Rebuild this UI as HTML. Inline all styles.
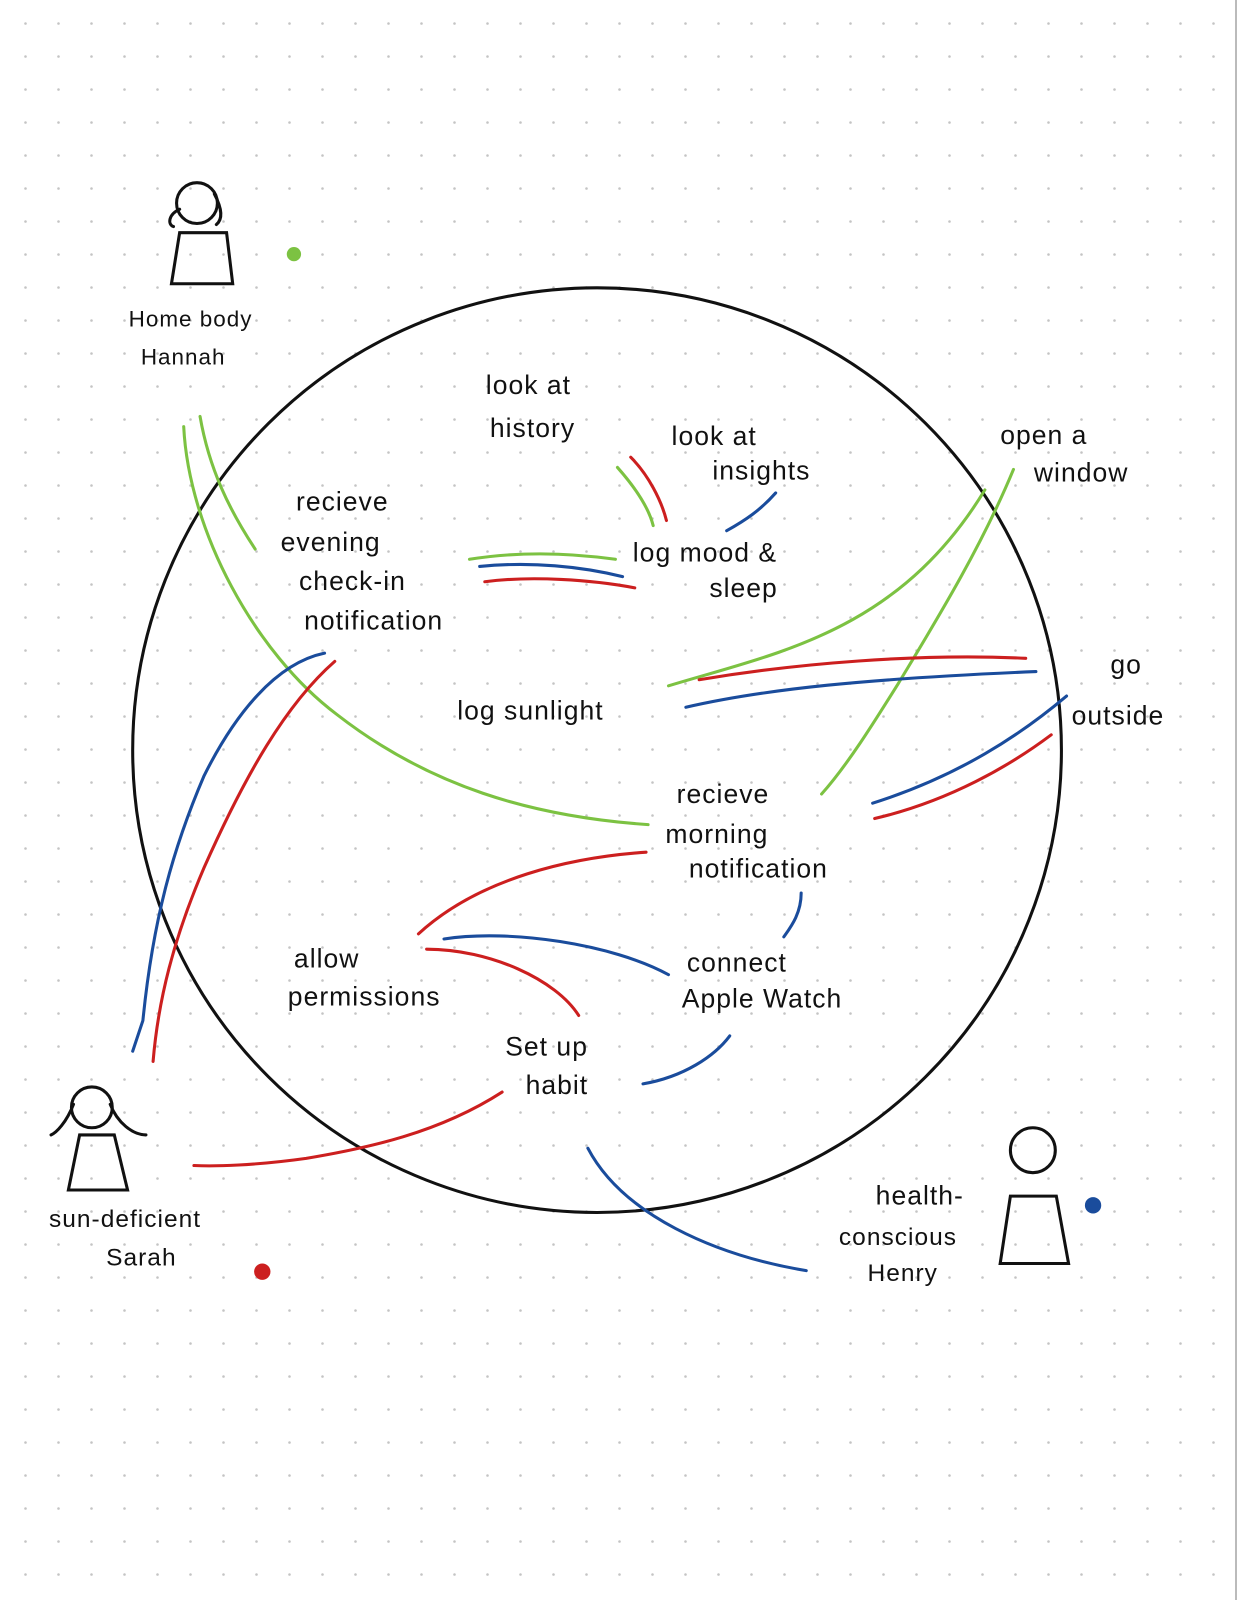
<!DOCTYPE html>
<html><head><meta charset="utf-8"><style>
html,body{margin:0;padding:0;background:#fff}
svg{display:block}
text{font-family:"Liberation Sans",sans-serif;font-size:26px;fill:#111;letter-spacing:1px}
</style></head><body>
<svg width="1237" height="1600" viewBox="0 0 1237 1600" xmlns="http://www.w3.org/2000/svg">
<defs><pattern id="d" x="24" y="22" width="33" height="33" patternUnits="userSpaceOnUse"><circle cx="1.5" cy="1.5" r="1.3" fill="#c4c4c4"/></pattern></defs>
<rect width="1237" height="1600" fill="#fff"/>
<rect width="1237" height="1600" fill="url(#d)"/>
<line x1="1236" y1="0" x2="1236" y2="1600" stroke="#bbb" stroke-width="2"/>
<g transform="scale(1.0206)">
<ellipse cx="585" cy="735" rx="455" ry="453" fill="none" stroke="#111" stroke-width="3"/>
<g fill="none" stroke-width="3" stroke-linecap="round">
<g stroke="#7cc242">
<path d="M180 418 C185 520 250 640 330 700 C420 770 520 800 635 808"/>
<path d="M196 408 C205 460 225 500 250 538"/>
<path d="M460 548 C510 540 560 542 603 548"/>
<path d="M605 458 C620 475 635 495 640 515"/>
<path d="M655 672 C760 640 880 620 965 480"/>
<path d="M993 460 C960 540 910 620 880 670 C855 710 830 750 805 778"/>
<circle cx="288" cy="249" r="7" fill="#7cc242" stroke="none"/>
</g>
<g stroke="#1a4c9c">
<path d="M318 640 C270 650 230 700 200 760 C170 830 150 900 140 1000 L130 1030"/>
<path d="M470 555 C520 550 570 555 610 565"/>
<path d="M760 483 C745 500 730 510 712 520"/>
<path d="M672 693 C750 675 850 665 1015 658"/>
<path d="M1045 682 C1000 720 940 760 855 787"/>
<path d="M785 875 C785 895 775 908 768 918"/>
<path d="M435 920 C500 910 600 925 655 955"/>
<path d="M715 1015 C700 1035 670 1055 630 1062"/>
<path d="M576 1125 C610 1190 700 1230 790 1245"/>
<circle cx="1071" cy="1181" r="8" fill="#1a4c9c" stroke="none"/>
</g>
<g stroke="#cc1f1f">
<path d="M328 648 C280 690 240 760 200 850 C170 920 155 980 150 1040"/>
<path d="M475 570 C520 564 580 568 622 576"/>
<path d="M618 448 C635 465 648 490 653 510"/>
<path d="M685 666 C780 650 900 640 1005 645"/>
<path d="M1030 720 C990 750 930 785 857 802"/>
<path d="M633 835 C560 840 470 860 410 915"/>
<path d="M418 930 C480 930 545 960 567 995"/>
<path d="M492 1070 C430 1110 360 1125 300 1135 C250 1142 210 1143 190 1142"/>
<circle cx="257" cy="1246" r="8" fill="#cc1f1f" stroke="none"/>
</g>
</g>
<g fill="none" stroke="#111" stroke-width="3" stroke-linecap="round">
<circle cx="193" cy="199" r="20"/><path d="M176 205 C165 210 164 220 170 222 M210 190 C218 205 218 215 212 220"/>
<path d="M176 228 L168 278 L228 278 L222 228 Z"/>
<circle cx="90" cy="1085" r="20"/><path d="M72 1082 C65 1100 55 1110 50 1112 M108 1082 C115 1100 130 1112 143 1112"/>
<path d="M78 1112 L67 1166 L125 1166 L112 1112 Z"/>
<circle cx="1012" cy="1127" r="22"/>
<path d="M990 1172 L980 1238 L1047 1238 L1035 1172 Z"/>
</g>
<text x="126" y="320" style="font-size:22px">Home body</text>
<text x="138" y="357" style="font-size:22px">Hannah</text>
<text x="48" y="1202" style="font-size:24px">sun-deficient</text>
<text x="104" y="1240" style="font-size:24px">Sarah</text>
<text x="858" y="1180" style="font-size:26px">health-</text>
<text x="822" y="1220" style="font-size:24px">conscious</text>
<text x="850" y="1255" style="font-size:24px">Henry</text>
<text x="476" y="386">look at</text>
<text x="480" y="428">history</text>
<text x="658" y="436">look at</text>
<text x="698" y="470">insights</text>
<text x="980" y="435">open a</text>
<text x="1013" y="472">window</text>
<text x="290" y="500">recieve</text>
<text x="275" y="540">evening</text>
<text x="293" y="578">check-in</text>
<text x="298" y="617">notification</text>
<text x="620" y="550">log mood &amp;</text>
<text x="695" y="585">sleep</text>
<text x="1088" y="660">go</text>
<text x="1050" y="710">outside</text>
<text x="448" y="705">log sunlight</text>
<text x="663" y="787">recieve</text>
<text x="652" y="826">morning</text>
<text x="675" y="860">notification</text>
<text x="288" y="948">allow</text>
<text x="282" y="985">permissions</text>
<text x="673" y="952">connect</text>
<text x="668" y="987">Apple Watch</text>
<text x="495" y="1034">Set up</text>
<text x="515" y="1072">habit</text>
</g>
</svg>
</body></html>
